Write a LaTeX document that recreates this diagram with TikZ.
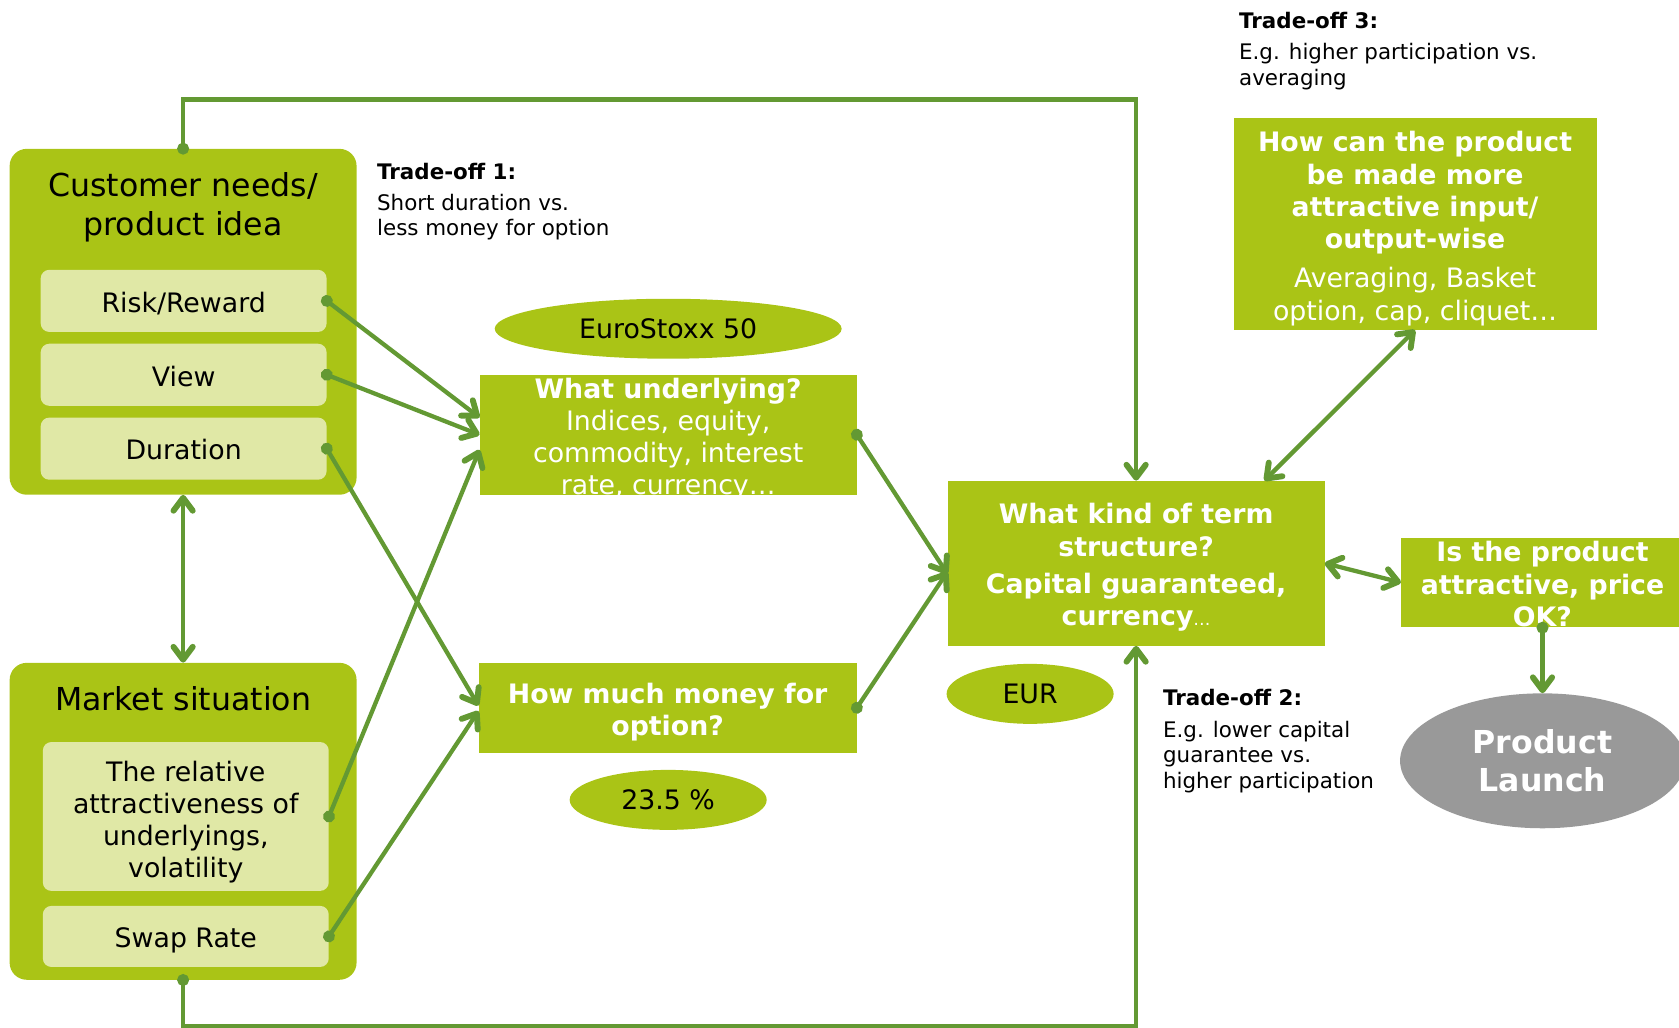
\documentclass[tikz,border=0pt]{standalone}
\usepackage{fontspec}
\setmainfont{DejaVu Sans}
\usetikzlibrary{arrows.meta,shapes.geometric,calc}
\definecolor{leaf}{RGB}{170,196,22}
\definecolor{pale}{RGB}{224,232,166}
\definecolor{stem}{RGB}{99,153,51}
\definecolor{stone}{RGB}{153,153,153}
\newcommand{\setsz}[2]{\fontsize{#1}{#2}\selectfont}

\begin{document}
\begin{tikzpicture}[x=1pt,y=-1pt,
  panel/.style={fill=leaf, rounded corners=16pt, inner sep=0pt},
  chip/.style={fill=pale, rounded corners=8pt, inner sep=0pt, minimum width=267pt,
               align=center, font=\setsz{25}{30}, text height=21pt, text depth=0pt},
  qbox/.style={fill=leaf, inner sep=0pt},
  qtext/.style={text=white, align=center, inner sep=0pt, font=\setsz{25}{30}\bfseries},
  tag/.style={ellipse, fill=leaf, inner sep=0pt, font=\setsz{25}{30}},
  heading/.style={inner sep=0pt, align=center, font=\setsz{29.5}{36}},
  note/.style={anchor=north west, inner sep=0pt, align=left, font=\setsz{20}{24}},
  barb/.tip={Straight Barb[length=12pt,width=18pt,round,line width=5.5pt]},
  link/.style={draw=stem, line width=4pt},
  dotlink/.style={link, {Circle[length=11pt]}-barb, shorten <=-5.5pt},
  duplex/.style={link, barb-barb}
]
\useasboundingbox (0,0) rectangle (1568,960);

% customer side
\node[panel, minimum width=324pt, minimum height=323pt] (cust) at (171,300.5) {};
\node[heading] (custtitle) at (171,193.5) {Customer needs/\\product idea};
\node[chip, minimum height=58pt] (risk) at (171.5,281) {Risk/Reward};
\node[chip, minimum height=58pt] (view) at (171.5,350) {View};
\node[chip, minimum height=58pt] (dur) at (171.5,419) {Duration};

% market side
\node[panel, minimum width=324pt, minimum height=296pt] (mkt) at (171,767) {};
\node[heading] (mkttitle) at (171,652.5) {Market situation};
\node[chip, minimum height=139pt] (rel) at (173.5,762.5) {};
\node[inner sep=0pt, align=center, font=\setsz{25}{30}] (reltext) at (173.5,767.5)
  {The relative\\attractiveness of\\underlyings,\\volatility};
\node[chip, minimum height=57pt] (swap) at (173.5,874.5) {Swap Rate};

% middle column
\node[tag, minimum width=324pt, minimum height=56pt] (euro) at (624,307) {EuroStoxx 50};
\node[qbox, minimum width=352pt, minimum height=112pt] (und) at (624,406) {};
\node[qtext, font=\setsz{25}{30}] (undtext) at (624,410)
  {\textbf{What underlying?}\\Indices, equity,\\commodity, interest\\rate, currency…};
\node[qbox, minimum width=353pt, minimum height=84pt] (hm) at (623.5,661) {};
\node[qtext] (hmtext) at (623.5,665) {How much money for\\option?};
\node[tag, minimum width=184pt, minimum height=56pt] (pct) at (624,747) {23.5 \%};

% term structure and right column
\node[qbox, minimum width=352pt, minimum height=154pt] (term) at (1061,526) {};
\node[qtext] (termtext) at (1061,530)
  {What kind of term\\structure?\\[5pt]Capital guaranteed,\\currency{\mdseries\setsz{16}{16}…}};
\node[tag, minimum width=156pt, minimum height=56pt] (eur) at (962,648) {EUR};
\node[qbox, minimum width=264pt, minimum height=84pt] (attr) at (1440.5,544) {};
\node[qtext] (attrtext) at (1440.5,545.5) {Is the product\\attractive, price\\OK?};
\node[ellipse, fill=stone, minimum width=266pt, minimum height=126pt, inner sep=0pt, text=white,
      align=center, font=\setsz{29.5}{36}\bfseries] (launch) at (1440.5,710.5) {Product\\Launch};
\node[qbox, minimum width=339pt, minimum height=198pt] (how) at (1321.5,209) {};
\node[qtext] (howtext) at (1321.5,213.5)
  {How can the product\\be made more\\attractive input/\\output-wise\\[7pt]{\mdseries Averaging, Basket}\\{\mdseries option, cap, cliquet…}};

% trade-off notes
\node[note] (t1) at (352,152) {\textbf{Trade-off 1:}\\[5pt]Short duration vs.\\less money for option};
\node[note] (t2) at (1086,643) {\textbf{Trade-off 2:}\\[6pt]E.g. lower capital\\guarantee vs.\\higher participation};
\node[note] (t3) at (1157,11) {\textbf{Trade-off 3:}\\[5pt]E.g. higher participation vs.\\averaging};

% connectors
\draw[dotlink] (risk.east) -- ($(und.north west)!0.357!(und.south west)$);
\draw[dotlink] (view.east) -- (und.west);
\draw[dotlink] (dur.east) -- ($(hm.west)+(0,-2)$);
\draw[dotlink] (rel.east) -- ($(und.north west)!0.625!(und.south west)$);
\draw[dotlink] (swap.east) -- ($(hm.west)+(0,3)$);
\draw[dotlink] (und.east) -- ($(term.west)+(0,10)$);
\draw[dotlink] (hm.east) -- ($(term.west)+(0,8)$);
\draw[duplex] (term.east) -- (attr.west);
\draw[duplex] ($(term.north west)!0.84!(term.north east)$) -- (how.south);
\draw[dotlink] (attr.south) -- (launch.north);
\draw[duplex] (cust.south) -- (mkt.north);
\coordinate (over) at (0,93);
\coordinate (under) at (0,958);
\draw[dotlink] (cust.north) -- (cust.north |- over) -| (term.north);
\draw[dotlink] (mkt.south) -- (mkt.south |- under) -| (term.south);
\end{tikzpicture}
\end{document}
